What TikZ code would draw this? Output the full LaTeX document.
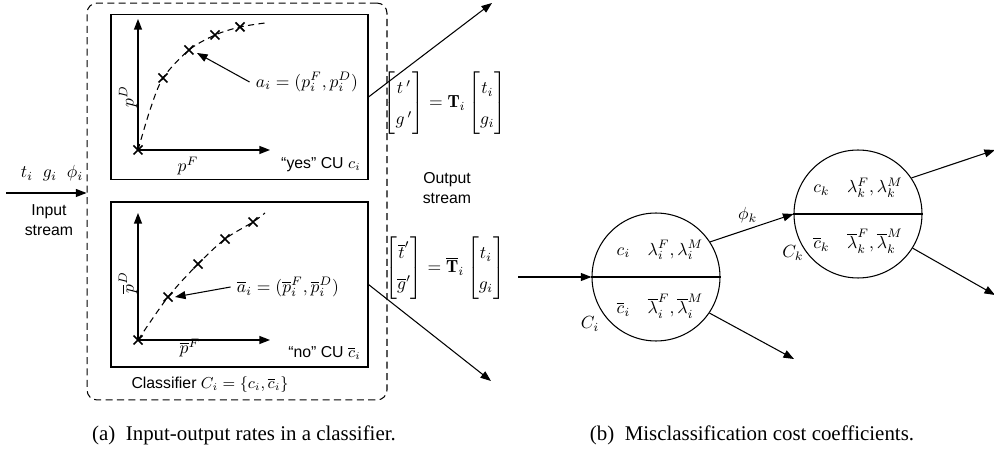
\documentclass[tikz,border=0pt]{standalone}
\usepackage{amsmath}
\usepackage{fontspec}
\setsansfont{Liberation Sans}
\newfontfamily\capfont{Liberation Serif}
\usepackage{tikz}
\usetikzlibrary{arrows.meta}

\tikzset{
    >={Triangle[length=6pt,width=4.5pt]},
    plotbox/.style={draw, semithick, minimum width=5.14cm, minimum height=3.3cm, inner sep=0pt},
    unit/.style={draw, semithick, circle, minimum size=2.56cm, inner sep=0pt},
    txt/.style={font=\sffamily\small},
    axis/.style={->, thick},
    curvedash/.style={dash pattern=on 3.5pt off 2.5pt},
    caption/.style={font=\capfont\fontsize{11.9}{14}\selectfont},
}

\begin{document}
\begin{tikzpicture}[x=0.02cm, y=-0.02cm, semithick]
    \useasboundingbox (0,0) rectangle (994,452);

    % Classifier with its two CUs
    \node[draw, dash pattern=on 4pt off 2.5pt, rounded corners=0.2cm, minimum width=6cm, minimum height=7.94cm] (clf) at (237,201.5) {};
    \node[plotbox] (yes) at (239.5,97) {};
    \node[plotbox] (no) at (239.5,284.5) {};

    % "yes" plot
    \draw[axis] (138,150) -- (138,19);
    \draw[axis] (138,150) -- (270,150);
    \draw[curvedash] plot[smooth] coordinates {(138,150) (150,110) (163,78) (189,50) (215,35) (240,27) (265,23)};
    \foreach \x/\y in {138/150, 163/78, 189/50, 215/35, 240/27}
        \draw[line width=1pt] (\x-4.5,\y-4.5) -- (\x+4.5,\y+4.5) (\x-4.5,\y+4.5) -- (\x+4.5,\y-4.5);
    \node[rotate=90] (pD) at (128,97) {$p^D$};
    \node (pF) at (188,166) {$p^F$};
    \node (ai) at (307,82) {$a_i = (p_i^F, p_i^D)$};
    \coordinate (apt) at (197,53);
    \draw[->] (ai.west) -- (apt);
    \node[txt, anchor=east] (yeslbl) at (367,165) {``yes'' CU $c_i$};

    % "no" plot
    \draw[axis] (138,340) -- (138,213);
    \draw[axis] (138,340) -- (270,340);
    \draw[curvedash] plot[smooth] coordinates {(138,340) (168,297) (198,264) (225,239) (253,222) (265,213)};
    \foreach \x/\y in {138/340, 168/297, 198/264, 225/239, 253/222}
        \draw[line width=1pt] (\x-4.5,\y-4.5) -- (\x+4.5,\y+4.5) (\x-4.5,\y+4.5) -- (\x+4.5,\y-4.5);
    \node[rotate=90] (pbD) at (128,283) {$\overline{p}^D$};
    \node (pbF) at (190,348) {$\overline{p}^F$};
    \node (abar) at (288,287) {$\overline{a}_i = (\overline{p}_i^F, \overline{p}_i^D)$};
    \coordinate (abpt) at (175,297);
    \draw[->] (abar.west) -- (abpt);
    \node[txt, anchor=east] (nolbl) at (367,353) {``no'' CU $\overline{c}_i$};

    \node[txt] (clflbl) at (210,385) {Classifier $C_i = \{c_i, \overline{c}_i\}$};

    % Input and output streams
    \coordinate (in) at (6,193);
    \draw[->] (in) -- (clf.west |- in);
    \node (inrates) at (52,173) {$t_i\;\;g_i\;\;\phi_i$};
    \node[txt, align=center] (instream) at (49,220) {Input\\stream};

    \coordinate (outA) at (492,3);
    \coordinate (outB) at (491,381);
    \draw[->] (yes.east) -- (outA);
    \draw[->] (no.east) -- (outB);
    \node (Tyes) at (445,103) {\renewcommand{\arraystretch}{1.45}$\begin{bmatrix} t\,' \\ g\,' \end{bmatrix} = \mathbf{T}_i \begin{bmatrix} t_i \\ g_i \end{bmatrix}$};
    \node (Tno) at (445,268) {\renewcommand{\arraystretch}{1.45}$\begin{bmatrix} \overline{t}' \\ \overline{g}' \end{bmatrix} = \overline{\mathbf{T}}_i \begin{bmatrix} t_i \\ g_i \end{bmatrix}$};
    \node[txt, align=center] (outstream) at (447,188) {Output\\stream};

    % Misclassification costs
    \node[unit] (ci) at (656,277) {};
    \node[unit] (ck) at (858,214) {};
    \draw (ci.west) -- (ci.east);
    \draw (ck.west) -- (ck.east);

    \node (ci-top) at (660,250) {$c_i\quad\lambda_i^F,\lambda_i^M$};
    \node (ci-bot) at (660,306) {$\overline{c}_i\quad\overline{\lambda}_i^F,\overline{\lambda}_i^M$};
    \node (Ci) at (590,324) {$C_i$};
    \node (ck-top) at (858,188) {$c_k\quad\lambda_k^F,\lambda_k^M$};
    \node (ck-bot) at (858,241) {$\overline{c}_k\quad\overline{\lambda}_k^F,\overline{\lambda}_k^M$};
    \node (Ck) at (793,253) {$C_k$};

    \coordinate (cin) at (518,277);
    \coordinate (ciout) at (794,359);
    \coordinate (ckoutA) at (995,150);
    \coordinate (ckoutB) at (995,295);
    \draw[->] (cin) -- (ci.west);
    \draw[->] (ci.33) -- node[above, pos=0.45] (phik) {$\phi_k$} (ck.west);
    \draw[->] (ci.-34) -- (ciout);
    \draw[->] (ck.34) -- (ckoutA);
    \draw[->] (ck.-32) -- (ckoutB);

    % Captions
    \node[caption] (capa) at (244,435) {(a)~~Input-output rates in a classifier.};
    \node[caption] (capb) at (752,435) {(b)~~Misclassification cost coefficients.};
\end{tikzpicture}
\end{document}
